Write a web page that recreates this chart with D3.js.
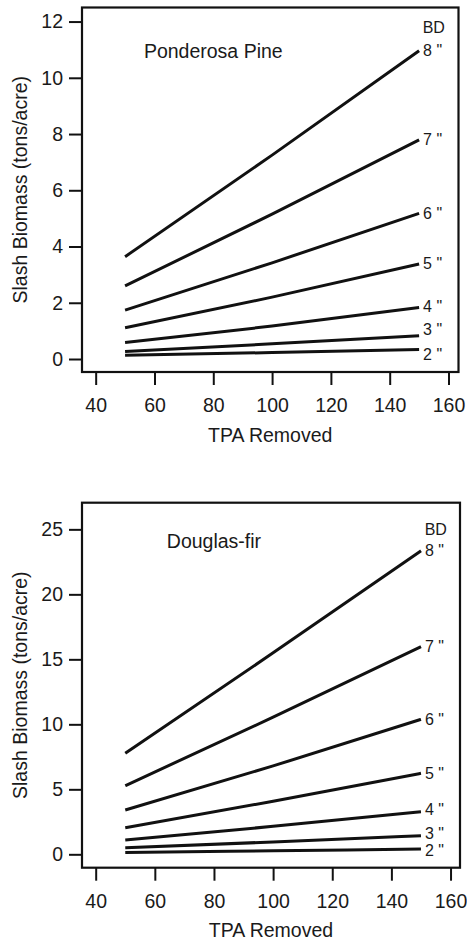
<!DOCTYPE html>
<html>
<head>
<meta charset="utf-8">
<script src="https://cdn.jsdelivr.net/npm/d3@7"></script>
<style>
  html, body { margin: 0; padding: 0; background: #fff; }
  svg { display: block; }
  text { font-family: "Liberation Sans", Arial, Helvetica, sans-serif; fill: #1a1a1a; }
</style>
</head>
<body>
<svg id="chart" width="467" height="943"></svg>
<script>
// ---------- data ----------
const tpaRemoved = [50, 100, 150];
const diameterLabels = ['2 "', '3 "', '4 "', '5 "', '6 "', '7 "', '8 "'];
const xTicks = [40, 60, 80, 100, 120, 140, 160];
const ppTicks = [0, 2, 4, 6, 8, 10, 12];
const dfTicks = [0, 5, 10, 15, 20, 25];

// Ponderosa Pine slash biomass (tons/acre) at TPA 50, 100, 150
const pp2 = [0.13, 0.23, 0.34];
const pp3 = [0.27, 0.54, 0.83];
const pp4 = [0.59, 1.17, 1.83];
const pp5 = [1.11, 2.2, 3.38];
const pp6 = [1.74, 3.42, 5.18];
const pp7 = [2.6, 5.15, 7.79];
const pp8 = [3.64, 7.25, 10.96];

// Douglas-fir slash biomass (tons/acre) at TPA 50, 100, 150
const df2 = [0.13, 0.27, 0.41];
const df3 = [0.51, 0.95, 1.43];
const df4 = [1.1, 2.15, 3.28];
const df5 = [2.05, 4.08, 6.23];
const df6 = [3.41, 6.8, 10.38];
const df7 = [5.28, 10.55, 15.97];
const df8 = [7.77, 15.5, 23.35];

// ---------- layout ----------
const panels = [
  {
    title: "Ponderosa Pine", series: [pp2, pp3, pp4, pp5, pp6, pp7, pp8], yTicks: ppTicks,
    box: {x0: 82, x1: 458.5, y0: 7.5, y1: 372},
    xDomain: [35.35, 163.4], yDomain: [-0.462, 12.5],
    titlePos: [80, 10.95], bdPos: [155, 11.78],
    nudges: [5, -6.5, -1.5, 0, 0, 0, 0],
    xLabelY: 411.5, xTitleY: 441.5
  },
  {
    title: "Douglas-fir", series: [df2, df3, df4, df5, df6, df7, df8], yTicks: dfTicks,
    box: {x0: 82, x1: 460, y0: 502.7, y1: 867.7},
    xDomain: [35.37, 163.2], yDomain: [-1.03, 27.05],
    titlePos: [80, 24.1], bdPos: [155, 25.0],
    nudges: [2, -2.5, -2, 0, 0, 0, 0],
    xLabelY: 908, xTitleY: 936.5
  }
];

const svg = d3.select("#chart");
svg.append("rect").attr("width", 467).attr("height", 943).attr("fill", "#fff");

panels.forEach(p => {
  const g = svg.append("g");
  const x = d3.scaleLinear().domain(p.xDomain).range([p.box.x0, p.box.x1]);
  const y = d3.scaleLinear().domain(p.yDomain).range([p.box.y1, p.box.y0]);

  // y axis
  const yAxis = d3.axisLeft(y).tickValues(p.yTicks).tickSize(13).tickPadding(6).tickSizeOuter(0);
  const ya = g.append("g").attr("transform", `translate(${p.box.x0},0)`).call(yAxis);
  ya.select(".domain").remove();
  ya.selectAll(".tick line").attr("stroke", "#111").attr("stroke-width", 2);
  ya.selectAll(".tick text").style("font-size", "19.5px").attr("fill", "#1a1a1a")
    .style("font-family", '"Liberation Sans", Arial, sans-serif');

  // x axis
  const xAxis = d3.axisBottom(x).tickValues(xTicks).tickSize(13).tickPadding(0).tickSizeOuter(0);
  const xa = g.append("g").attr("transform", `translate(0,${p.box.y1})`).call(xAxis);
  xa.select(".domain").remove();
  xa.selectAll(".tick line").attr("stroke", "#111").attr("stroke-width", 2);
  xa.selectAll(".tick text").attr("y", null).attr("dy", null)
    .attr("transform", `translate(0,${p.xLabelY - p.box.y1})`)
    .style("font-size", "19.5px").attr("fill", "#1a1a1a")
    .style("font-family", '"Liberation Sans", Arial, sans-serif');

  // box
  g.append("rect")
    .attr("x", p.box.x0).attr("y", p.box.y0)
    .attr("width", p.box.x1 - p.box.x0).attr("height", p.box.y1 - p.box.y0)
    .attr("fill", "none").attr("stroke", "#111").attr("stroke-width", 2.2);

  // lines
  const line = d3.line().x((d, i) => x(tpaRemoved[i])).y(d => y(d)).curve(d3.curveMonotoneX);
  g.selectAll("path.series").data(p.series).join("path")
    .attr("class", "series")
    .attr("d", d => line(d))
    .attr("fill", "none").attr("stroke", "#111").attr("stroke-width", 3)
    .attr("stroke-linecap", "butt");

  // line labels
  g.selectAll("text.lab").data(p.series).join("text")
    .attr("class", "lab")
    .attr("x", x(tpaRemoved[tpaRemoved.length - 1]) + 4)
    .attr("y", (d, i) => y(d[d.length - 1]) + p.nudges[i])
    .attr("dominant-baseline", "central")
    .style("font-size", "16px")
    .text((d, i) => diameterLabels[i]);

  // BD header
  g.append("text")
    .attr("x", x(p.bdPos[0])).attr("y", y(p.bdPos[1]))
    .attr("text-anchor", "middle").attr("dominant-baseline", "central")
    .style("font-size", "16px").text("BD");

  // panel title
  g.append("text")
    .attr("x", x(p.titlePos[0])).attr("y", y(p.titlePos[1]))
    .attr("text-anchor", "middle").attr("dominant-baseline", "central")
    .style("font-size", "19.5px").text(p.title);

  // axis titles
  g.append("text")
    .attr("x", (p.box.x0 + p.box.x1) / 2).attr("y", p.xTitleY)
    .attr("text-anchor", "middle")
    .style("font-size", "19.5px").text("TPA Removed");

  g.append("text")
    .attr("transform", `translate(27,${(p.box.y0 + p.box.y1) / 2}) rotate(-90)`)
    .attr("text-anchor", "middle")
    .style("font-size", "19.5px").text("Slash Biomass (tons/acre)");
});
</script>
</body>
</html>
